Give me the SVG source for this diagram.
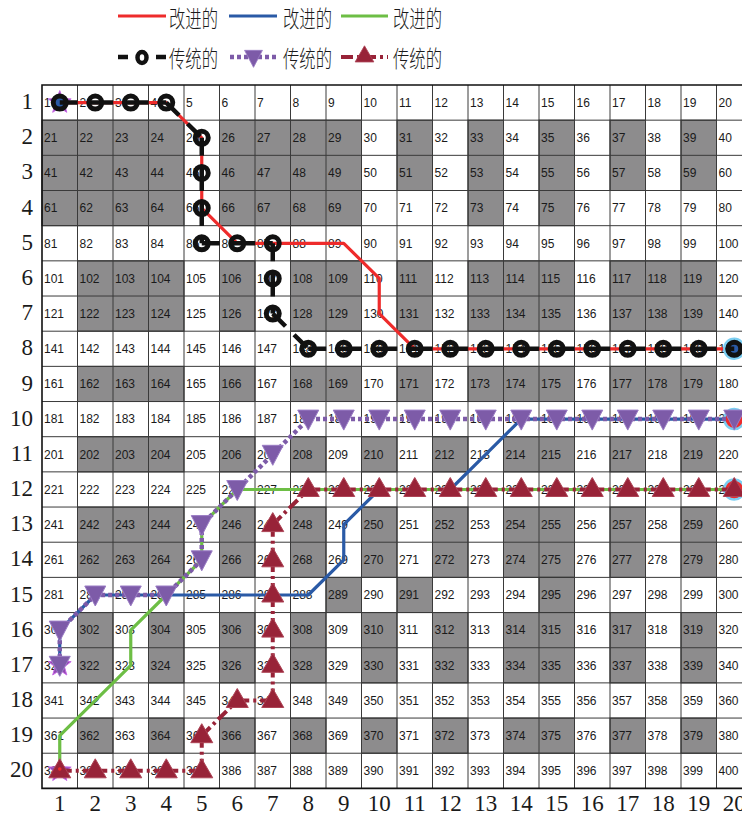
<svg xmlns="http://www.w3.org/2000/svg" xmlns:xlink="http://www.w3.org/1999/xlink" width="742" height="816" viewBox="0 0 742 816">
<style>
.n{font-family:"Liberation Sans",Arial,sans-serif;font-size:12px;fill:#1a1a1a}
.ax{font-family:"Liberation Serif","Times New Roman",serif;font-size:23px;fill:#1a1a1a}
.lg{font-family:"Noto Sans CJK SC","Noto Sans CJK JP",sans-serif;font-size:23px;font-weight:300;fill:#1a1a1a}
.gr{fill:#8d8c8d;stroke:#222;stroke-width:1}
.red{fill:none;stroke:#ee2b2b;stroke-width:3.2;stroke-linejoin:round}
.blue{fill:none;stroke:#2a5aa6;stroke-width:3.2;stroke-linejoin:round}
.green{fill:none;stroke:#6dbe45;stroke-width:3.2;stroke-linejoin:round}
.blk{fill:none;stroke:#111;stroke-width:4.5;stroke-dasharray:18 12}
.pur{fill:none;stroke:#7d5ba8;stroke-width:4.5;stroke-dasharray:4 3}
.dr{fill:none;stroke:#982338;stroke-width:4;stroke-dasharray:12 4 3 4}
.rg{fill:none;stroke:#111;stroke-width:5}
.pm{fill:#7d5ba8;stroke:#9a7cc4;stroke-width:1}
.dm{fill:#982338;stroke:#ad4456;stroke-width:1}
.st{fill:#8f4cb0;stroke:#c866e6;stroke-width:1}
.goal{fill:#ee2b2b;stroke:#7ccff2;stroke-width:2.5}
</style>
<defs>
<polygon id="tdn" points="-10.5,-9 10.5,-9 0,11"/>
<polygon id="tup" points="0,-12 11,7 -11,7"/>
<circle id="ring" r="6.5"/>
<polygon id="star" points="0,-12 2.9,-4 11.4,-3.7 4.7,1.5 7.05,9.7 0,4.9 -7.05,9.7 -4.7,1.5 -11.4,-3.7 -2.9,-4"/>
</defs>
<rect width="742" height="816" fill="#fff"/>

<g id="legend">
<line x1="118" y1="16" x2="166" y2="16" class="red"/>
<text x="169" y="27" class="lg" textLength="49" lengthAdjust="spacingAndGlyphs">改进的</text>
<line x1="229" y1="16" x2="277" y2="16" class="blue"/>
<text x="283" y="27" class="lg" textLength="49" lengthAdjust="spacingAndGlyphs">改进的</text>
<line x1="341" y1="16" x2="388" y2="16" class="green"/>
<text x="393" y="27" class="lg" textLength="49" lengthAdjust="spacingAndGlyphs">改进的</text>
<path d="M118 57H128M156 57H166" stroke="#111" stroke-width="4.5"/>
<ellipse cx="142" cy="57.5" rx="4.5" ry="5.5" fill="none" stroke="#111" stroke-width="4.5"/>
<text x="169" y="67" class="lg" textLength="49" lengthAdjust="spacingAndGlyphs">传统的</text>
<line x1="230" y1="57" x2="276" y2="57" class="pur"/>
<use href="#tdn" x="253.5" y="58" class="pm" transform="translate(253.5 58) scale(0.85) translate(-253.5 -58)"/>
<text x="283" y="67" class="lg" textLength="49" lengthAdjust="spacingAndGlyphs">传统的</text>
<line x1="341" y1="57" x2="388" y2="57" class="dr"/>
<use href="#tup" x="364.5" y="56" class="dm" transform="translate(364.5 56) scale(0.85) translate(-364.5 -56)"/>
<text x="393" y="67" class="lg" textLength="49" lengthAdjust="spacingAndGlyphs">传统的</text>
</g>

<g id="grid">
<g id="obstacles">
<rect class="gr" x="42" y="120.17" width="142" height="105.51"/>
<rect class="gr" x="219.5" y="120.17" width="142" height="105.51"/>
<rect class="gr" x="468" y="120.17" width="35.5" height="105.51"/>
<rect class="gr" x="539" y="120.17" width="35.5" height="105.51"/>
<rect class="gr" x="397" y="120.17" width="35.5" height="70.34"/>
<rect class="gr" x="610" y="120.17" width="35.5" height="70.34"/>
<rect class="gr" x="681" y="120.17" width="35.5" height="70.34"/>

<rect class="gr" x="77.5" y="260.85" width="106.5" height="70.34"/>
<rect class="gr" x="219.5" y="260.85" width="35.5" height="70.34"/>
<rect class="gr" x="290.5" y="260.85" width="71" height="70.34"/>
<rect class="gr" x="397" y="260.85" width="35.5" height="70.34"/>
<rect class="gr" x="468" y="260.85" width="106.5" height="70.34"/>
<rect class="gr" x="610" y="260.85" width="106.5" height="70.34"/>

<rect class="gr" x="77.5" y="366.36" width="106.5" height="35.17"/>
<rect class="gr" x="219.5" y="366.36" width="35.5" height="35.17"/>
<rect class="gr" x="290.5" y="366.36" width="71" height="35.17"/>
<rect class="gr" x="397" y="366.36" width="35.5" height="35.17"/>
<rect class="gr" x="468" y="366.36" width="106.5" height="35.17"/>
<rect class="gr" x="610" y="366.36" width="106.5" height="35.17"/>

<rect class="gr" x="77.5" y="436.7" width="106.5" height="35.17"/>
<rect class="gr" x="219.5" y="436.7" width="35.5" height="35.17"/>
<rect class="gr" x="290.5" y="436.7" width="35.5" height="35.17"/>
<rect class="gr" x="361.5" y="436.7" width="35.5" height="35.17"/>
<rect class="gr" x="432.5" y="436.7" width="35.5" height="35.17"/>
<rect class="gr" x="503.5" y="436.7" width="71" height="35.17"/>
<rect class="gr" x="610" y="436.7" width="35.5" height="35.17"/>
<rect class="gr" x="681" y="436.7" width="35.5" height="35.17"/>

<rect class="gr" x="77.5" y="507.04" width="106.5" height="70.34"/>
<rect class="gr" x="219.5" y="507.04" width="35.5" height="70.34"/>
<rect class="gr" x="290.5" y="507.04" width="35.5" height="70.34"/>
<rect class="gr" x="361.5" y="507.04" width="35.5" height="70.34"/>
<rect class="gr" x="432.5" y="507.04" width="35.5" height="70.34"/>
<rect class="gr" x="503.5" y="507.04" width="71" height="70.34"/>
<rect class="gr" x="610" y="507.04" width="35.5" height="70.34"/>
<rect class="gr" x="681" y="507.04" width="35.5" height="70.34"/>

<rect class="gr" x="326" y="577.38" width="35.5" height="35.17"/>
<rect class="gr" x="397" y="577.38" width="35.5" height="35.17"/>
<rect class="gr" x="539" y="577.38" width="35.5" height="35.17"/>

<rect class="gr" x="77.5" y="612.55" width="35.5" height="70.34"/>
<rect class="gr" x="148.5" y="612.55" width="35.5" height="70.34"/>
<rect class="gr" x="219.5" y="612.55" width="35.5" height="70.34"/>
<rect class="gr" x="290.5" y="612.55" width="35.5" height="70.34"/>
<rect class="gr" x="361.5" y="612.55" width="35.5" height="70.34"/>
<rect class="gr" x="432.5" y="612.55" width="35.5" height="70.34"/>
<rect class="gr" x="503.5" y="612.55" width="71" height="70.34"/>
<rect class="gr" x="610" y="612.55" width="35.5" height="70.34"/>
<rect class="gr" x="681" y="612.55" width="35.5" height="70.34"/>

<rect class="gr" x="77.5" y="718.06" width="35.5" height="35.17"/>
<rect class="gr" x="148.5" y="718.06" width="35.5" height="35.17"/>
<rect class="gr" x="219.5" y="718.06" width="35.5" height="35.17"/>
<rect class="gr" x="290.5" y="718.06" width="35.5" height="35.17"/>
<rect class="gr" x="361.5" y="718.06" width="35.5" height="35.17"/>
<rect class="gr" x="432.5" y="718.06" width="35.5" height="35.17"/>
<rect class="gr" x="503.5" y="718.06" width="71" height="35.17"/>
<rect class="gr" x="610" y="718.06" width="35.5" height="35.17"/>
<rect class="gr" x="681" y="718.06" width="35.5" height="35.17"/>
</g>
<path fill="none" stroke="#3a3a3a" stroke-width="1" d="M77.5 85V788.4M113 85V788.4M148.5 85V788.4M184 85V788.4M219.5 85V788.4M255 85V788.4M290.5 85V788.4M326 85V788.4M361.5 85V788.4M397 85V788.4M432.5 85V788.4M468 85V788.4M503.5 85V788.4M539 85V788.4M574.5 85V788.4M610 85V788.4M645.5 85V788.4M681 85V788.4M716.5 85V788.4M42 120.17H752M42 155.34H752M42 190.51H752M42 225.68H752M42 260.85H752M42 296.02H752M42 331.19H752M42 366.36H752M42 401.53H752M42 436.7H752M42 471.87H752M42 507.04H752M42 542.21H752M42 577.38H752M42 612.55H752M42 647.72H752M42 682.89H752M42 718.06H752M42 753.23H752"/>
<path fill="none" stroke="#111" stroke-width="1.6" d="M752 85H42V788.4H752"/>
</g>

<g id="cell-numbers">
<text class="n" y="106.9"><tspan x="44">1</tspan><tspan x="79.5">2</tspan><tspan x="115">3</tspan><tspan x="150.5">4</tspan><tspan x="186">5</tspan><tspan x="221.5">6</tspan><tspan x="257">7</tspan><tspan x="292.5">8</tspan><tspan x="328">9</tspan><tspan x="363.5">10</tspan><tspan x="399">11</tspan><tspan x="434.5">12</tspan><tspan x="470">13</tspan><tspan x="505.5">14</tspan><tspan x="541">15</tspan><tspan x="576.5">16</tspan><tspan x="612">17</tspan><tspan x="647.5">18</tspan><tspan x="683">19</tspan><tspan x="718.5">20</tspan></text>
<text class="n" y="142.1"><tspan x="44">21</tspan><tspan x="79.5">22</tspan><tspan x="115">23</tspan><tspan x="150.5">24</tspan><tspan x="186">25</tspan><tspan x="221.5">26</tspan><tspan x="257">27</tspan><tspan x="292.5">28</tspan><tspan x="328">29</tspan><tspan x="363.5">30</tspan><tspan x="399">31</tspan><tspan x="434.5">32</tspan><tspan x="470">33</tspan><tspan x="505.5">34</tspan><tspan x="541">35</tspan><tspan x="576.5">36</tspan><tspan x="612">37</tspan><tspan x="647.5">38</tspan><tspan x="683">39</tspan><tspan x="718.5">40</tspan></text>
<text class="n" y="177.2"><tspan x="44">41</tspan><tspan x="79.5">42</tspan><tspan x="115">43</tspan><tspan x="150.5">44</tspan><tspan x="186">45</tspan><tspan x="221.5">46</tspan><tspan x="257">47</tspan><tspan x="292.5">48</tspan><tspan x="328">49</tspan><tspan x="363.5">50</tspan><tspan x="399">51</tspan><tspan x="434.5">52</tspan><tspan x="470">53</tspan><tspan x="505.5">54</tspan><tspan x="541">55</tspan><tspan x="576.5">56</tspan><tspan x="612">57</tspan><tspan x="647.5">58</tspan><tspan x="683">59</tspan><tspan x="718.5">60</tspan></text>
<text class="n" y="212.4"><tspan x="44">61</tspan><tspan x="79.5">62</tspan><tspan x="115">63</tspan><tspan x="150.5">64</tspan><tspan x="186">65</tspan><tspan x="221.5">66</tspan><tspan x="257">67</tspan><tspan x="292.5">68</tspan><tspan x="328">69</tspan><tspan x="363.5">70</tspan><tspan x="399">71</tspan><tspan x="434.5">72</tspan><tspan x="470">73</tspan><tspan x="505.5">74</tspan><tspan x="541">75</tspan><tspan x="576.5">76</tspan><tspan x="612">77</tspan><tspan x="647.5">78</tspan><tspan x="683">79</tspan><tspan x="718.5">80</tspan></text>
<text class="n" y="247.6"><tspan x="44">81</tspan><tspan x="79.5">82</tspan><tspan x="115">83</tspan><tspan x="150.5">84</tspan><tspan x="186">85</tspan><tspan x="221.5">86</tspan><tspan x="257">87</tspan><tspan x="292.5">88</tspan><tspan x="328">89</tspan><tspan x="363.5">90</tspan><tspan x="399">91</tspan><tspan x="434.5">92</tspan><tspan x="470">93</tspan><tspan x="505.5">94</tspan><tspan x="541">95</tspan><tspan x="576.5">96</tspan><tspan x="612">97</tspan><tspan x="647.5">98</tspan><tspan x="683">99</tspan><tspan x="718.5">100</tspan></text>
<text class="n" y="282.7"><tspan x="44">101</tspan><tspan x="79.5">102</tspan><tspan x="115">103</tspan><tspan x="150.5">104</tspan><tspan x="186">105</tspan><tspan x="221.5">106</tspan><tspan x="257">107</tspan><tspan x="292.5">108</tspan><tspan x="328">109</tspan><tspan x="363.5">110</tspan><tspan x="399">111</tspan><tspan x="434.5">112</tspan><tspan x="470">113</tspan><tspan x="505.5">114</tspan><tspan x="541">115</tspan><tspan x="576.5">116</tspan><tspan x="612">117</tspan><tspan x="647.5">118</tspan><tspan x="683">119</tspan><tspan x="718.5">120</tspan></text>
<text class="n" y="317.9"><tspan x="44">121</tspan><tspan x="79.5">122</tspan><tspan x="115">123</tspan><tspan x="150.5">124</tspan><tspan x="186">125</tspan><tspan x="221.5">126</tspan><tspan x="257">127</tspan><tspan x="292.5">128</tspan><tspan x="328">129</tspan><tspan x="363.5">130</tspan><tspan x="399">131</tspan><tspan x="434.5">132</tspan><tspan x="470">133</tspan><tspan x="505.5">134</tspan><tspan x="541">135</tspan><tspan x="576.5">136</tspan><tspan x="612">137</tspan><tspan x="647.5">138</tspan><tspan x="683">139</tspan><tspan x="718.5">140</tspan></text>
<text class="n" y="353.1"><tspan x="44">141</tspan><tspan x="79.5">142</tspan><tspan x="115">143</tspan><tspan x="150.5">144</tspan><tspan x="186">145</tspan><tspan x="221.5">146</tspan><tspan x="257">147</tspan><tspan x="292.5">148</tspan><tspan x="328">149</tspan><tspan x="363.5">150</tspan><tspan x="399">151</tspan><tspan x="434.5">152</tspan><tspan x="470">153</tspan><tspan x="505.5">154</tspan><tspan x="541">155</tspan><tspan x="576.5">156</tspan><tspan x="612">157</tspan><tspan x="647.5">158</tspan><tspan x="683">159</tspan><tspan x="718.5">160</tspan></text>
<text class="n" y="388.3"><tspan x="44">161</tspan><tspan x="79.5">162</tspan><tspan x="115">163</tspan><tspan x="150.5">164</tspan><tspan x="186">165</tspan><tspan x="221.5">166</tspan><tspan x="257">167</tspan><tspan x="292.5">168</tspan><tspan x="328">169</tspan><tspan x="363.5">170</tspan><tspan x="399">171</tspan><tspan x="434.5">172</tspan><tspan x="470">173</tspan><tspan x="505.5">174</tspan><tspan x="541">175</tspan><tspan x="576.5">176</tspan><tspan x="612">177</tspan><tspan x="647.5">178</tspan><tspan x="683">179</tspan><tspan x="718.5">180</tspan></text>
<text class="n" y="423.4"><tspan x="44">181</tspan><tspan x="79.5">182</tspan><tspan x="115">183</tspan><tspan x="150.5">184</tspan><tspan x="186">185</tspan><tspan x="221.5">186</tspan><tspan x="257">187</tspan><tspan x="292.5">188</tspan><tspan x="328">189</tspan><tspan x="363.5">190</tspan><tspan x="399">191</tspan><tspan x="434.5">192</tspan><tspan x="470">193</tspan><tspan x="505.5">194</tspan><tspan x="541">195</tspan><tspan x="576.5">196</tspan><tspan x="612">197</tspan><tspan x="647.5">198</tspan><tspan x="683">199</tspan><tspan x="718.5">200</tspan></text>
<text class="n" y="458.6"><tspan x="44">201</tspan><tspan x="79.5">202</tspan><tspan x="115">203</tspan><tspan x="150.5">204</tspan><tspan x="186">205</tspan><tspan x="221.5">206</tspan><tspan x="257">207</tspan><tspan x="292.5">208</tspan><tspan x="328">209</tspan><tspan x="363.5">210</tspan><tspan x="399">211</tspan><tspan x="434.5">212</tspan><tspan x="470">213</tspan><tspan x="505.5">214</tspan><tspan x="541">215</tspan><tspan x="576.5">216</tspan><tspan x="612">217</tspan><tspan x="647.5">218</tspan><tspan x="683">219</tspan><tspan x="718.5">220</tspan></text>
<text class="n" y="493.8"><tspan x="44">221</tspan><tspan x="79.5">222</tspan><tspan x="115">223</tspan><tspan x="150.5">224</tspan><tspan x="186">225</tspan><tspan x="221.5">226</tspan><tspan x="257">227</tspan><tspan x="292.5">228</tspan><tspan x="328">229</tspan><tspan x="363.5">230</tspan><tspan x="399">231</tspan><tspan x="434.5">232</tspan><tspan x="470">233</tspan><tspan x="505.5">234</tspan><tspan x="541">235</tspan><tspan x="576.5">236</tspan><tspan x="612">237</tspan><tspan x="647.5">238</tspan><tspan x="683">239</tspan><tspan x="718.5">240</tspan></text>
<text class="n" y="528.9"><tspan x="44">241</tspan><tspan x="79.5">242</tspan><tspan x="115">243</tspan><tspan x="150.5">244</tspan><tspan x="186">245</tspan><tspan x="221.5">246</tspan><tspan x="257">247</tspan><tspan x="292.5">248</tspan><tspan x="328">249</tspan><tspan x="363.5">250</tspan><tspan x="399">251</tspan><tspan x="434.5">252</tspan><tspan x="470">253</tspan><tspan x="505.5">254</tspan><tspan x="541">255</tspan><tspan x="576.5">256</tspan><tspan x="612">257</tspan><tspan x="647.5">258</tspan><tspan x="683">259</tspan><tspan x="718.5">260</tspan></text>
<text class="n" y="564.1"><tspan x="44">261</tspan><tspan x="79.5">262</tspan><tspan x="115">263</tspan><tspan x="150.5">264</tspan><tspan x="186">265</tspan><tspan x="221.5">266</tspan><tspan x="257">267</tspan><tspan x="292.5">268</tspan><tspan x="328">269</tspan><tspan x="363.5">270</tspan><tspan x="399">271</tspan><tspan x="434.5">272</tspan><tspan x="470">273</tspan><tspan x="505.5">274</tspan><tspan x="541">275</tspan><tspan x="576.5">276</tspan><tspan x="612">277</tspan><tspan x="647.5">278</tspan><tspan x="683">279</tspan><tspan x="718.5">280</tspan></text>
<text class="n" y="599.3"><tspan x="44">281</tspan><tspan x="79.5">282</tspan><tspan x="115">283</tspan><tspan x="150.5">284</tspan><tspan x="186">285</tspan><tspan x="221.5">286</tspan><tspan x="257">287</tspan><tspan x="292.5">288</tspan><tspan x="328">289</tspan><tspan x="363.5">290</tspan><tspan x="399">291</tspan><tspan x="434.5">292</tspan><tspan x="470">293</tspan><tspan x="505.5">294</tspan><tspan x="541">295</tspan><tspan x="576.5">296</tspan><tspan x="612">297</tspan><tspan x="647.5">298</tspan><tspan x="683">299</tspan><tspan x="718.5">300</tspan></text>
<text class="n" y="634.4"><tspan x="44">301</tspan><tspan x="79.5">302</tspan><tspan x="115">303</tspan><tspan x="150.5">304</tspan><tspan x="186">305</tspan><tspan x="221.5">306</tspan><tspan x="257">307</tspan><tspan x="292.5">308</tspan><tspan x="328">309</tspan><tspan x="363.5">310</tspan><tspan x="399">311</tspan><tspan x="434.5">312</tspan><tspan x="470">313</tspan><tspan x="505.5">314</tspan><tspan x="541">315</tspan><tspan x="576.5">316</tspan><tspan x="612">317</tspan><tspan x="647.5">318</tspan><tspan x="683">319</tspan><tspan x="718.5">320</tspan></text>
<text class="n" y="669.6"><tspan x="44">321</tspan><tspan x="79.5">322</tspan><tspan x="115">323</tspan><tspan x="150.5">324</tspan><tspan x="186">325</tspan><tspan x="221.5">326</tspan><tspan x="257">327</tspan><tspan x="292.5">328</tspan><tspan x="328">329</tspan><tspan x="363.5">330</tspan><tspan x="399">331</tspan><tspan x="434.5">332</tspan><tspan x="470">333</tspan><tspan x="505.5">334</tspan><tspan x="541">335</tspan><tspan x="576.5">336</tspan><tspan x="612">337</tspan><tspan x="647.5">338</tspan><tspan x="683">339</tspan><tspan x="718.5">340</tspan></text>
<text class="n" y="704.8"><tspan x="44">341</tspan><tspan x="79.5">342</tspan><tspan x="115">343</tspan><tspan x="150.5">344</tspan><tspan x="186">345</tspan><tspan x="221.5">346</tspan><tspan x="257">347</tspan><tspan x="292.5">348</tspan><tspan x="328">349</tspan><tspan x="363.5">350</tspan><tspan x="399">351</tspan><tspan x="434.5">352</tspan><tspan x="470">353</tspan><tspan x="505.5">354</tspan><tspan x="541">355</tspan><tspan x="576.5">356</tspan><tspan x="612">357</tspan><tspan x="647.5">358</tspan><tspan x="683">359</tspan><tspan x="718.5">360</tspan></text>
<text class="n" y="740"><tspan x="44">361</tspan><tspan x="79.5">362</tspan><tspan x="115">363</tspan><tspan x="150.5">364</tspan><tspan x="186">365</tspan><tspan x="221.5">366</tspan><tspan x="257">367</tspan><tspan x="292.5">368</tspan><tspan x="328">369</tspan><tspan x="363.5">370</tspan><tspan x="399">371</tspan><tspan x="434.5">372</tspan><tspan x="470">373</tspan><tspan x="505.5">374</tspan><tspan x="541">375</tspan><tspan x="576.5">376</tspan><tspan x="612">377</tspan><tspan x="647.5">378</tspan><tspan x="683">379</tspan><tspan x="718.5">380</tspan></text>
<text class="n" y="775.1"><tspan x="44">381</tspan><tspan x="79.5">382</tspan><tspan x="115">383</tspan><tspan x="150.5">384</tspan><tspan x="186">385</tspan><tspan x="221.5">386</tspan><tspan x="257">387</tspan><tspan x="292.5">388</tspan><tspan x="328">389</tspan><tspan x="363.5">390</tspan><tspan x="399">391</tspan><tspan x="434.5">392</tspan><tspan x="470">393</tspan><tspan x="505.5">394</tspan><tspan x="541">395</tspan><tspan x="576.5">396</tspan><tspan x="612">397</tspan><tspan x="647.5">398</tspan><tspan x="683">399</tspan><tspan x="718.5">400</tspan></text>
</g>

<g id="axis-labels">
<g class="ax" text-anchor="end">
<text x="33" y="109.1">1</text><text x="33" y="144.3">2</text><text x="33" y="179.4">3</text><text x="33" y="214.6">4</text><text x="33" y="249.8">5</text><text x="33" y="284.9">6</text><text x="33" y="320.1">7</text><text x="33" y="355.3">8</text><text x="33" y="390.5">9</text><text x="33" y="425.6">10</text><text x="33" y="460.8">11</text><text x="33" y="496">12</text><text x="33" y="531.1">13</text><text x="33" y="566.3">14</text><text x="33" y="601.5">15</text><text x="33" y="636.6">16</text><text x="33" y="671.8">17</text><text x="33" y="707">18</text><text x="33" y="742.2">19</text><text x="33" y="777.3">20</text>
</g>
<g class="ax" text-anchor="middle">
<text x="59.75" y="811">1</text><text x="95.25" y="811">2</text><text x="130.75" y="811">3</text><text x="166.25" y="811">4</text><text x="201.75" y="811">5</text><text x="237.25" y="811">6</text><text x="272.75" y="811">7</text><text x="308.25" y="811">8</text><text x="343.75" y="811">9</text><text x="379.25" y="811">10</text><text x="414.75" y="811">11</text><text x="450.25" y="811">12</text><text x="485.75" y="811">13</text><text x="521.25" y="811">14</text><text x="556.75" y="811">15</text><text x="592.25" y="811">16</text><text x="627.75" y="811">17</text><text x="663.25" y="811">18</text><text x="698.75" y="811">19</text><text x="734.25" y="811">20</text>
</g>
</g>

<g id="connectors">
<path id="path-red" class="red" d="M59.75,102.6 L166.25,102.6 L201.75,137.8 L201.75,208.1 L237.25,243.3 L343.75,243.3 L379.25,278.4 L379.25,313.6 L414.75,348.8 L734.25,348.8"/>
<path id="path-blue" class="blue" d="M59.75,665.3 L59.75,630.1 L95.25,595 L308.25,595 L343.75,559.8 L343.75,524.6 L379.25,489.5 L450.25,489.5 L485.75,454.3 L521.25,419.1 L734.25,419.1"/>
<path id="path-green" class="green" d="M59.75,770.8 L59.75,735.7 L130.75,665.3 L130.75,630.1 L166.25,595 L201.75,559.8 L201.75,524.6 L237.25,489.5 L734.25,489.5"/>

<g id="endpoints">
<use href="#star" x="59.75" y="102.6" class="st"/>
<circle cx="59.75" cy="102.6" r="5.5" fill="#2a5aa6"/>
<use href="#star" x="59.75" y="665.3" class="st"/>
<use href="#star" x="59.75" y="770.8" class="st"/>
<circle cx="734.25" cy="348.8" r="10" fill="#2a5aa6" stroke="#7ccff2" stroke-width="2.5"/>
<circle cx="734.25" cy="419.1" r="10" class="goal"/>
<circle cx="734.25" cy="489.5" r="10" class="goal"/>
</g>

<path id="path-black" class="blk" d="M59.75,102.6L95.25,102.6M95.25,102.6L130.75,102.6M130.75,102.6L166.25,102.6M166.25,102.6L201.75,137.8M201.75,137.8L201.75,172.9M201.75,172.9L201.75,208.1M201.75,208.1L201.75,243.3M201.75,243.3L237.25,243.3M237.25,243.3L272.75,243.3M272.75,243.3L272.75,278.4M272.75,278.4L272.75,313.6M272.75,313.6L308.25,348.8M308.25,348.8L343.75,348.8M343.75,348.8L379.25,348.8M379.25,348.8L414.75,348.8M414.75,348.8L450.25,348.8M450.25,348.8L485.75,348.8M485.75,348.8L521.25,348.8M521.25,348.8L556.75,348.8M556.75,348.8L592.25,348.8M592.25,348.8L627.75,348.8M627.75,348.8L663.25,348.8M663.25,348.8L698.75,348.8M698.75,348.8L734.25,348.8"/>
<g id="markers-black" class="rg">
<use href="#ring" x="59.75" y="102.6"/><use href="#ring" x="95.25" y="102.6"/><use href="#ring" x="130.75" y="102.6"/><use href="#ring" x="166.25" y="102.6"/><use href="#ring" x="201.75" y="137.8"/><use href="#ring" x="201.75" y="172.9"/><use href="#ring" x="201.75" y="208.1"/><use href="#ring" x="201.75" y="243.3"/><use href="#ring" x="237.25" y="243.3"/><use href="#ring" x="272.75" y="243.3"/><use href="#ring" x="272.75" y="278.4"/><use href="#ring" x="272.75" y="313.6"/><use href="#ring" x="308.25" y="348.8"/><use href="#ring" x="343.75" y="348.8"/><use href="#ring" x="379.25" y="348.8"/><use href="#ring" x="414.75" y="348.8"/><use href="#ring" x="450.25" y="348.8"/><use href="#ring" x="485.75" y="348.8"/><use href="#ring" x="521.25" y="348.8"/><use href="#ring" x="556.75" y="348.8"/><use href="#ring" x="592.25" y="348.8"/><use href="#ring" x="627.75" y="348.8"/><use href="#ring" x="663.25" y="348.8"/><use href="#ring" x="698.75" y="348.8"/><use href="#ring" x="734.25" y="348.8"/>
</g>

<path id="path-purple" class="pur" d="M59.75,665.3 L59.75,630.1 L95.25,595 L166.25,595 L201.75,559.8 L201.75,524.6 L237.25,489.5 L272.75,454.3 L308.25,419.1 L734.25,419.1"/>
<g id="markers-purple" class="pm">
<use href="#tdn" x="59.75" y="665.3"/><use href="#tdn" x="59.75" y="630.1"/><use href="#tdn" x="95.25" y="595"/><use href="#tdn" x="130.75" y="595"/><use href="#tdn" x="166.25" y="595"/><use href="#tdn" x="201.75" y="559.8"/><use href="#tdn" x="201.75" y="524.6"/><use href="#tdn" x="237.25" y="489.5"/><use href="#tdn" x="272.75" y="454.3"/><use href="#tdn" x="308.25" y="419.1"/><use href="#tdn" x="343.75" y="419.1"/><use href="#tdn" x="379.25" y="419.1"/><use href="#tdn" x="414.75" y="419.1"/><use href="#tdn" x="450.25" y="419.1"/><use href="#tdn" x="485.75" y="419.1"/><use href="#tdn" x="521.25" y="419.1"/><use href="#tdn" x="556.75" y="419.1"/><use href="#tdn" x="592.25" y="419.1"/><use href="#tdn" x="627.75" y="419.1"/><use href="#tdn" x="663.25" y="419.1"/><use href="#tdn" x="698.75" y="419.1"/><use href="#tdn" x="734.25" y="419.1"/>
</g>

<path id="path-darkred" class="dr" d="M59.75,770.8L95.25,770.8M95.25,770.8L130.75,770.8M130.75,770.8L166.25,770.8M166.25,770.8L201.75,770.8M201.75,770.8L201.75,735.7M201.75,735.7L237.25,700.5M237.25,700.5L272.75,700.5M272.75,700.5L272.75,665.3M272.75,665.3L272.75,630.1M272.75,630.1L272.75,595M272.75,595L272.75,559.8M272.75,559.8L272.75,524.6M272.75,524.6L308.25,489.5M308.25,489.5L343.75,489.5M343.75,489.5L379.25,489.5M379.25,489.5L414.75,489.5M414.75,489.5L450.25,489.5M450.25,489.5L485.75,489.5M485.75,489.5L521.25,489.5M521.25,489.5L556.75,489.5M556.75,489.5L592.25,489.5M592.25,489.5L627.75,489.5M627.75,489.5L663.25,489.5M663.25,489.5L698.75,489.5M698.75,489.5L734.25,489.5"/>
<g id="markers-darkred" class="dm">
<use href="#tup" x="59.75" y="770.8"/><use href="#tup" x="95.25" y="770.8"/><use href="#tup" x="130.75" y="770.8"/><use href="#tup" x="166.25" y="770.8"/><use href="#tup" x="201.75" y="770.8"/><use href="#tup" x="201.75" y="735.7"/><use href="#tup" x="237.25" y="700.5"/><use href="#tup" x="272.75" y="700.5"/><use href="#tup" x="272.75" y="665.3"/><use href="#tup" x="272.75" y="630.1"/><use href="#tup" x="272.75" y="595"/><use href="#tup" x="272.75" y="559.8"/><use href="#tup" x="272.75" y="524.6"/><use href="#tup" x="308.25" y="489.5"/><use href="#tup" x="343.75" y="489.5"/><use href="#tup" x="379.25" y="489.5"/><use href="#tup" x="414.75" y="489.5"/><use href="#tup" x="450.25" y="489.5"/><use href="#tup" x="485.75" y="489.5"/><use href="#tup" x="521.25" y="489.5"/><use href="#tup" x="556.75" y="489.5"/><use href="#tup" x="592.25" y="489.5"/><use href="#tup" x="627.75" y="489.5"/><use href="#tup" x="663.25" y="489.5"/><use href="#tup" x="698.75" y="489.5"/><use href="#tup" x="734.25" y="489.5"/>
</g>
<circle cx="59.75" cy="769" r="1.8" fill="#ee2b2b"/>
</g>
</svg>
